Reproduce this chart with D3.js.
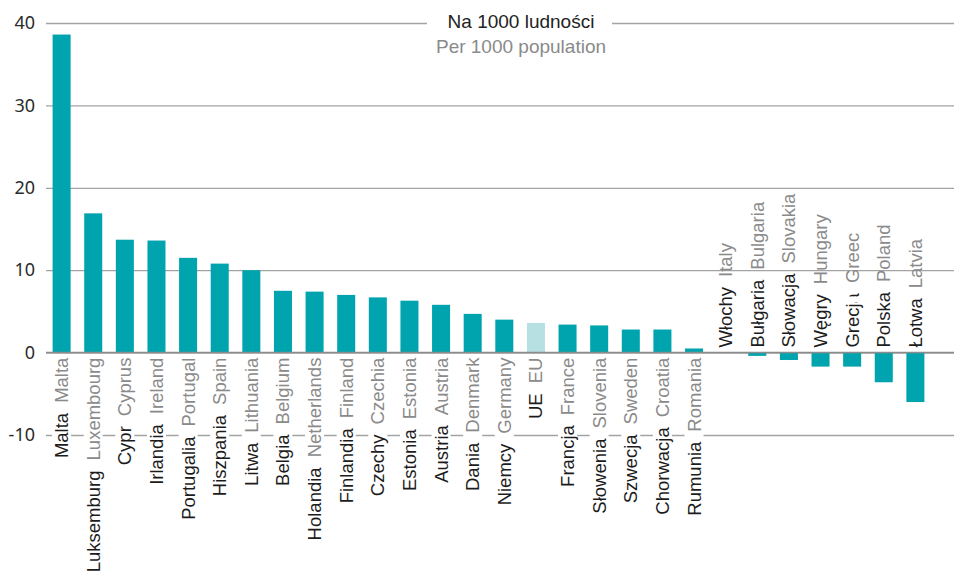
<!DOCTYPE html>
<html>
<head>
<meta charset="utf-8">
<script src="https://cdn.jsdelivr.net/npm/d3@7"></script>
<style>
  body { margin: 0; background: #fff; }
  svg { display: block; }
</style>
</head>
<body>
<div id="chart"></div>
<script>
// country names, Polish and English, sorted by value
var namesPl = ['Malta', 'Luksemburg', 'Cypr', 'Irlandia', 'Portugalia', 'Hiszpania', 'Litwa',
  'Belgia', 'Holandia', 'Finlandia', 'Czechy', 'Estonia', 'Austria', 'Dania', 'Niemcy', 'UE',
  'Francja', 'Słowenia', 'Szwecja', 'Chorwacja', 'Rumunia', 'Włochy', 'Bułgaria', 'Słowacja',
  'Węgry', 'Grecja', 'Polska', 'Łotwa'];
var namesEn = ['Malta', 'Luxembourg', 'Cyprus', 'Ireland', 'Portugal', 'Spain', 'Lithuania',
  'Belgium', 'Netherlands', 'Finland', 'Czechia', 'Estonia', 'Austria', 'Denmark', 'Germany', 'EU',
  'France', 'Slovenia', 'Sweden', 'Croatia', 'Romania', 'Italy', 'Bulgaria', 'Slovakia',
  'Hungary', 'Greece', 'Poland', 'Latvia'];
var values = [38.6, 16.9, 13.7, 13.6, 11.5, 10.8, 10.0, 7.5, 7.4, 7.0, 6.7, 6.3, 5.8, 4.7, 4.0, 3.6,
  3.4, 3.3, 2.8, 2.8, 0.5, 0, -0.4, -0.9, -1.7, -1.7, -3.6, -6.0];
var yTicks = [-10, 0, 10, 20, 30, 40];
var titlePl = 'Na 1000 ludności';
var titleEn = 'Per 1000 population';

var W = 954, H = 571;
var TEAL = '#00a4ae', TEAL_LIGHT = '#b7e0e3';
var LABEL_FONT = '"Liberation Sans", Arial, sans-serif';

var rows = namesPl.map(function (n, i) {
  return { pl: n, en: namesEn[i], v: values[i] };
});

var svg = d3.select('#chart').append('svg')
    .attr('width', W)
    .attr('height', H);

var x = d3.scaleBand()
    .domain(namesPl)
    .range([39, 938])
    .padding(0.43);

var y = d3.scaleLinear()
    .domain([-10, 40])
    .range([435, 23]);

// gridlines + tick labels (plain hyphen for negatives, like the source)
var yAxis = svg.append('g')
    .attr('transform', 'translate(46,0)')
    .call(d3.axisLeft(y)
      .tickValues(yTicks)
      .tickFormat(function (d) { return String(d); })
      .tickSize(-(W - 46))
      .tickPadding(11));
yAxis.select('.domain').remove();
yAxis.selectAll('.tick line')
    .attr('stroke', '#a3a3a3')
    .attr('stroke-width', 1.3);
yAxis.selectAll('.tick text')
    .attr('fill', '#2b2b2b')
    .style('font-family', '"Noto Sans", "Open Sans", sans-serif')
    .style('font-size', '18px');

// bars
svg.append('g').selectAll('rect')
  .data(rows)
  .join('rect')
    .attr('x', function (d) { return x(d.pl); })
    .attr('width', x.bandwidth())
    .attr('y', function (d) { return y(Math.max(0, d.v)); })
    .attr('height', function (d) { return Math.abs(y(d.v) - y(0)); })
    .attr('fill', function (d) { return d.pl === 'UE' ? TEAL_LIGHT : TEAL; });

// zero line
svg.append('line')
    .attr('x1', 46).attr('x2', W)
    .attr('y1', y(0)).attr('y2', y(0))
    .attr('stroke', '#8c8c8c')
    .attr('stroke-width', 1.5);

// title sitting on the top gridline
var cx = 521;
svg.append('rect')
    .attr('x', 427).attr('y', y(40) - 6)
    .attr('width', 185).attr('height', 12)
    .attr('fill', '#fff');
svg.append('text')
    .attr('x', cx).attr('y', 28)
    .attr('text-anchor', 'middle')
    .style('font-family', LABEL_FONT)
    .style('font-size', '19px')
    .attr('fill', '#222')
    .text(titlePl);
svg.append('text')
    .attr('x', cx).attr('y', 53)
    .attr('text-anchor', 'middle')
    .style('font-family', LABEL_FONT)
    .style('font-size', '19px')
    .attr('fill', '#8a8a8a')
    .text(titleEn);

// category labels: Polish (dark) then English (grey), rotated
var labels = svg.append('g').selectAll('g')
  .data(rows)
  .join('g')
    .attr('clip-path', function (d) { return d.pl === 'Grecja' ? 'url(#clip-gr)' : null; })
  .append('g')
    .attr('transform', function (d) {
      var cxb = x(d.pl) + x.bandwidth() / 2;
      var top = d.v > 0 ? y(0) + 5 : y(0) - 5;
      return 'translate(' + cxb + ',' + top + ') rotate(-90)';
    });

var texts = labels.append('text')
    .attr('dy', '0.35em')
    .attr('text-anchor', function (d) { return d.v > 0 ? 'end' : 'start'; })
    .style('font-family', LABEL_FONT)
    .style('font-size', '18.5px');
texts.append('tspan')
    .attr('fill', '#1c1c1c')
    .text(function (d) { return d.pl; });
texts.append('tspan')
    .attr('dx', 10)
    .attr('fill', '#8a8a8a')
    .text(function (d) { return d.en; });

// white box behind the labels under the axis (they hide the -10 gridline)
labels.filter(function (d) { return d.v > 0; })
  .insert('rect', 'text')
    .each(function () {
      var b = this.parentNode.querySelector('text').getBBox();
      d3.select(this)
        .attr('x', b.x).attr('y', b.y + 1)
        .attr('width', b.width).attr('height', b.height - 2)
        .attr('fill', '#fff');
    });

// the Greek label is cut off in the source
var gx = x('Grecja') + x.bandwidth() / 2;
var clip = svg.append('clipPath').attr('id', 'clip-gr');
clip.append('rect')
    .attr('x', gx - 20).attr('width', 40)
    .attr('y', y(0) - 50).attr('height', 53);
clip.append('rect')
    .attr('x', gx - 20).attr('width', 40)
    .attr('y', y(0) - 120).attr('height', 64);
</script>
</body>
</html>
